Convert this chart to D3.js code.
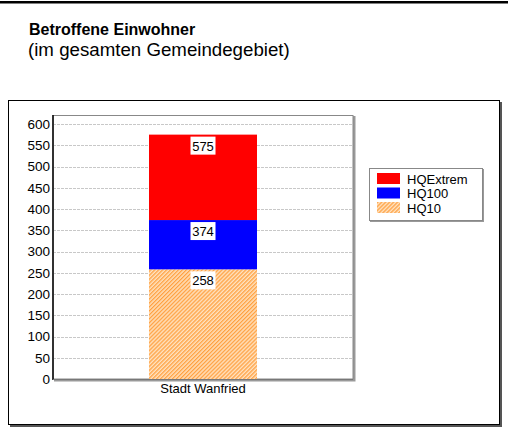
<!DOCTYPE html>
<html>
<head>
<meta charset="utf-8">
<script src="https://cdn.jsdelivr.net/npm/d3@7/dist/d3.min.js"></script>
<style>
  html, body { margin: 0; padding: 0; background: #fff; }
  svg { display: block; font-family: "Liberation Sans", Arial, sans-serif; }
</style>
</head>
<body>
<svg id="chart" width="508" height="428"></svg>
<script>
// Affected residents per flood scenario (cumulative stacked totals)
const categories = ["Stadt Wanfried"];
const seriesNames = ["HQ10", "HQ100", "HQExtrem"];
const hq10 = [258];
const hq100 = [374];
const hqExtrem = [575];
const yTicks = [0, 50, 100, 150, 200, 250, 300, 350, 400, 450, 500, 550, 600];
const legendOrder = ["HQExtrem", "HQ100", "HQ10"];

const totals = { "HQ10": hq10, "HQ100": hq100, "HQExtrem": hqExtrem };
const fills = { "HQExtrem": "#ff0000", "HQ100": "#0000ff", "HQ10": "url(#hatch)" };

const svg = d3.select("#chart");

// Hatch pattern for the HQ10 segment
const defs = svg.append("defs");
const pat = defs.append("pattern")
  .attr("id", "hatch").attr("patternUnits", "userSpaceOnUse")
  .attr("width", 2.8).attr("height", 2.8)
  .attr("patternTransform", "rotate(45)");
pat.append("rect").attr("width", 2.8).attr("height", 2.8).attr("fill", "#ffe2c0");
pat.append("rect").attr("width", 1.3).attr("height", 2.8).attr("fill", "#ffa040");

// Top rule
svg.append("rect").attr("x", 0).attr("y", 1).attr("width", 508).attr("height", 2.5).attr("fill", "#000");

// Titles
svg.append("text").attr("x", 29).attr("y", 35)
  .attr("font-size", 16).attr("font-weight", "bold").text("Betroffene Einwohner");
svg.append("text").attr("x", 28).attr("y", 56)
  .attr("font-size", 18.7).text("(im gesamten Gemeindegebiet)");

// Outer frame with shadow
svg.append("rect").attr("x", 10).attr("y", 102).attr("width", 492).attr("height", 325).attr("fill", "#555");
svg.append("rect").attr("x", 8.5).attr("y", 100.5).attr("width", 491).attr("height", 324)
  .attr("fill", "#fff").attr("stroke", "#000").attr("stroke-width", 1);

// Plot area
const plot = { left: 53, right: 353, top: 115, bottom: 379 };
const y = d3.scaleLinear().domain([0, 600]).range([plot.bottom, 124]);
const x = d3.scaleBand().domain(categories).range([plot.left, plot.right]).paddingInner(0.64).paddingOuter(0.32);

// Plot frame shadow and border
svg.append("rect").attr("x", plot.left + 1).attr("y", plot.top + 1)
  .attr("width", plot.right - plot.left + 1.5).attr("height", plot.bottom - plot.top + 1.5).attr("fill", "#999");
svg.append("rect").attr("x", plot.left).attr("y", plot.top + 0.5)
  .attr("width", plot.right - plot.left).attr("height", plot.bottom - plot.top - 0.5)
  .attr("fill", "#fff").attr("stroke", "#888").attr("stroke-width", 1);

// Gridlines
svg.append("g").selectAll("line").data(yTicks.filter(d => d > 0)).join("line")
  .attr("x1", plot.left).attr("x2", plot.right - 1)
  .attr("y1", d => Math.round(y(d)) + 0.5).attr("y2", d => Math.round(y(d)) + 0.5)
  .attr("stroke", "#c8c8c8").attr("stroke-dasharray", "3,1");

// Stacked segments: each segment spans from the previous total to its own total
const segs = [];
categories.forEach((c, i) => {
  let prev = 0;
  seriesNames.forEach(s => {
    const v = totals[s][i];
    segs.push({ cat: c, name: s, y0: prev, y1: v });
    prev = v;
  });
});

svg.append("g").selectAll("rect").data(segs).join("rect")
  .attr("x", d => x(d.cat)).attr("width", x.bandwidth())
  .attr("y", d => y(d.y1)).attr("height", d => y(d.y0) - y(d.y1))
  .attr("fill", d => fills[d.name]);

// Value labels on white boxes
const lab = svg.append("g").selectAll("g").data(segs).join("g")
  .attr("transform", d => `translate(${x(d.cat) + x.bandwidth() / 2},${y(d.y1) + 2})`);
lab.append("rect").attr("x", -12.5).attr("y", 0).attr("width", 25).attr("height", 18).attr("fill", "#fff");
lab.append("text").attr("text-anchor", "middle").attr("y", 14).attr("font-size", 13)
  .text(d => d.y1);

// Y axis
const yAxis = svg.append("g").attr("transform", `translate(${plot.left},0)`)
  .call(d3.axisLeft(y).tickValues(yTicks).tickSize(0).tickPadding(3));
yAxis.select(".domain").remove();
yAxis.selectAll("text").attr("font-size", 13.5).attr("font-family", "Liberation Sans, Arial, sans-serif").attr("fill", "#000");
svg.append("line").attr("x1", plot.left).attr("x2", plot.left).attr("y1", plot.top).attr("y2", plot.bottom + 1)
  .attr("stroke", "#000").attr("stroke-width", 1.5);
svg.append("line").attr("x1", plot.left).attr("x2", plot.right).attr("y1", plot.bottom + 0.5).attr("y2", plot.bottom + 0.5)
  .attr("stroke", "#777").attr("stroke-width", 1);

// X axis label
const xAxis = svg.append("g").attr("transform", `translate(0,${plot.bottom})`)
  .call(d3.axisBottom(x).tickSize(0).tickPadding(5));
xAxis.select(".domain").remove();
xAxis.selectAll("text").attr("font-size", 13).attr("font-family", "Liberation Sans, Arial, sans-serif").attr("fill", "#000");

// Legend
const lg = svg.append("g");
lg.append("rect").attr("x", 370).attr("y", 169).attr("width", 114).attr("height", 53).attr("fill", "#999");
lg.append("rect").attr("x", 369.5).attr("y", 168.5).attr("width", 113).attr("height", 52)
  .attr("fill", "#fff").attr("stroke", "#888");
const items = lg.selectAll("g.item").data(legendOrder).join("g").attr("class", "item")
  .attr("transform", (d, i) => `translate(377,${173 + i * 14.5})`);
items.append("rect").attr("width", 23).attr("height", 11).attr("fill", d => fills[d]);
items.append("text").attr("x", 30).attr("y", 10.5).attr("font-size", 13).text(d => d);
</script>
</body>
</html>
